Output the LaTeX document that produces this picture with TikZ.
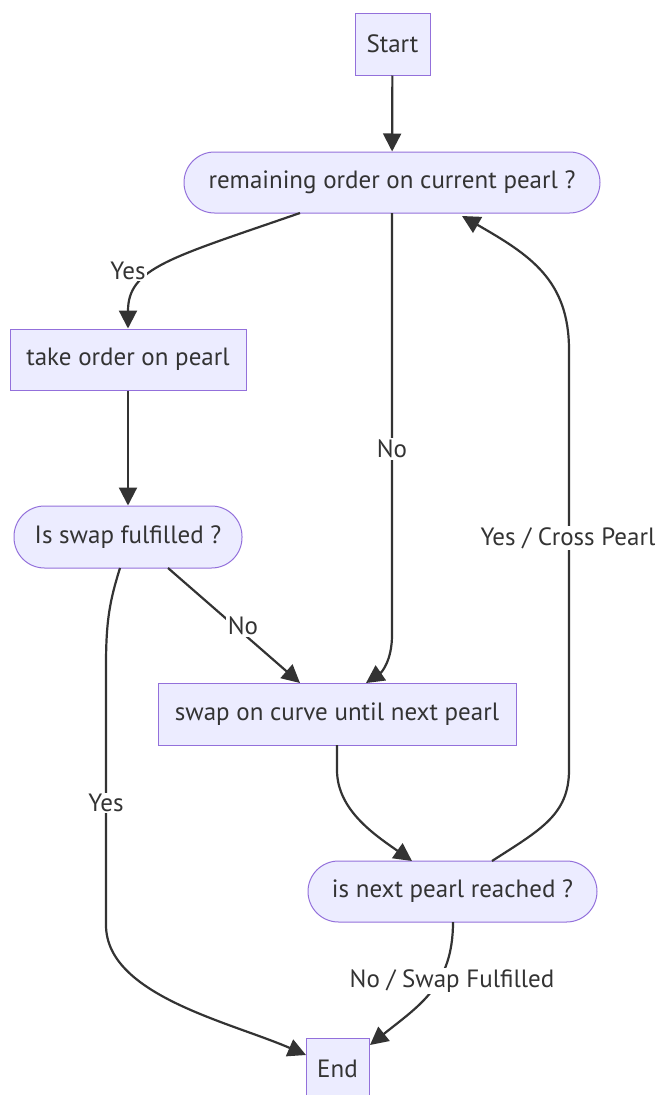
\documentclass[tikz,border=0pt]{standalone}
\usepackage{fontspec}
\setmainfont{PT Sans}
\usetikzlibrary{arrows.meta}
\definecolor{nodefill}{HTML}{ECECFF}
\definecolor{nodeline}{HTML}{9370DB}
\definecolor{ink}{HTML}{333333}
\tikzset{
  box/.style={draw=nodeline, fill=nodefill, line width=1pt, text=ink, inner sep=0pt, font=\fontsize{25}{30}\selectfont},
  stadium/.style={box, rounded corners=30.5pt},
  edge/.style={draw=ink, line width=2.2pt, -{Triangle[length=18pt,width=18pt]}},
  lbl/.style={fill=white, text=ink, inner sep=1.5pt, font=\fontsize{25}{30}\selectfont},
}
\begin{document}
\begin{tikzpicture}[x=1pt,y=-1pt]
\useasboundingbox (0,0) rectangle (662,1095);
% nodes
\node[box, minimum width=75pt, minimum height=62pt] (start) at (392.5,44) {Start};
\node[stadium, minimum width=416pt, minimum height=61pt] (rem) at (392,182.5) {remaining order on current pearl ?};
\node[box, minimum width=236pt, minimum height=61pt] (take) at (128,359.5) {take order on pearl};
\node[stadium, minimum width=228pt, minimum height=62pt] (isswap) at (128,537) {Is swap fulfilled ?};
\node[box, minimum width=358pt, minimum height=62pt] (swap) at (337,714) {swap on curve until next pearl};
\node[stadium, minimum width=289pt, minimum height=61pt] (isnext) at (452.5,891.5) {is next pearl reached ?};
\node[box, minimum width=63pt, minimum height=62pt] (end) at (337.5,1069) {End};
% anchor coordinates
\coordinate (remYes) at (300,213);
\coordinate (remNo) at (392,213);
\coordinate (remIn) at (462,216);
\coordinate (swapInL) at (300,683);
\coordinate (swapInR) at (366,683);
\coordinate (isswapYes) at (120,568);
\coordinate (isswapNo) at (168,568);
\coordinate (swapOut) at (337,745);
\coordinate (nextIn) at (412,861);
\coordinate (nextYes) at (492,861);
\coordinate (nextNo) at (453,922);
\coordinate (endL) at (306,1055);
\coordinate (endR) at (370,1045);
% edges
\draw[edge] (start) -- (rem);
\draw[edge] (remYes) .. controls (170,258) and (128,268) .. (take.north);
\draw[edge] (remNo) -- (392,635) .. controls (392,660) and (382,672) .. (swapInR);
\draw[edge] (take) -- (isswap);
\draw[edge] (isswapNo) -- (swapInL);
\draw[edge] (isswapYes) .. controls (110,600) and (106,620) .. (106,665) -- (106,925) .. controls (106,995) and (230,1022) .. (endL);
\draw[edge] (swapOut) -- (337,770) .. controls (337,810) and (375,835) .. (nextIn);
\draw[edge] (nextYes) .. controls (540,830) and (569,815) .. (569,770) -- (569,350) .. controls (569,280) and (530,255) .. (remIn);
\draw[edge] (nextNo) .. controls (453,985) and (420,1005) .. (endR);
% labels
\node[lbl] (lYes1) at (128,271) {Yes};
\node[lbl] (lNo1) at (392,449) {No};
\node[lbl] (lNo2) at (243,626) {No};
\node[lbl] (lYes2) at (106,803) {Yes};
\node[lbl] (lCross) at (568,538) {Yes / Cross Pearl};
\node[lbl] (lSwapF) at (452,981) {No / Swap Fulfilled};
\end{tikzpicture}
\end{document}
